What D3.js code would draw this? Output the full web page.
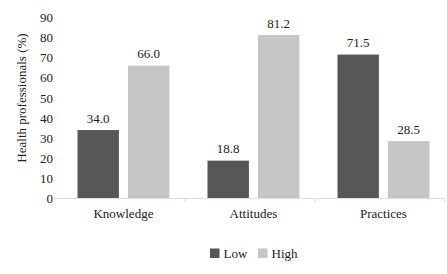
<!DOCTYPE html>
<html>
<head>
<meta charset="utf-8">
<script src="https://cdn.jsdelivr.net/npm/d3@7"></script>
<style>
  body { margin: 0; background: #fff; }
</style>
</head>
<body>
<div id="container"></div>
<script>
/**
 * CONSTANTS AND GLOBALS
 * */
const width = 447,
  height = 274,
  margin = { top: 17.3, bottom: 75.5, left: 55, right: 2 };

const FONT = "'Liberation Serif'";

// data
const categories = ["Knowledge", "Attitudes", "Practices"];
const series = ["Low", "High"];
const lowValues = [34.0, 18.8, 71.5];
const highValues = [66.0, 81.2, 28.5];
const yTicks = [0, 10, 20, 30, 40, 50, 60, 70, 80, 90];

const colors = { Low: "#575757", High: "#c6c6c6" };

// build rows for the join
const rows = categories.map((c, i) => ({
  category: c,
  values: [
    { key: "Low", value: lowValues[i] },
    { key: "High", value: highValues[i] }
  ]
}));

const svg = d3.select("#container").append("svg")
  .attr("width", width)
  .attr("height", height);

// SCALES
const x0 = d3.scaleBand()
  .domain(categories)
  .range([margin.left, width - margin.right])
  .padding(0);

const bw = x0.bandwidth();
const x1 = d3.scaleBand()
  .domain(series)
  .range([bw * 0.173, bw * 0.88])
  .paddingInner(0.18);

const y = d3.scaleLinear()
  .domain([0, 90])
  .range([height - margin.bottom, margin.top]);

// Y AXIS (labels only)
svg.append("g")
  .attr("transform", `translate(${margin.left},0)`)
  .call(d3.axisLeft(y).tickValues(yTicks).tickSize(0).tickPadding(2))
  .call(g => g.select(".domain").remove())
  .call(g => g.selectAll("text")
    .style("font-size", "13px")
    .style("font-family", FONT)
    .style("fill", "#222"));

// y label
svg.append("text")
  .attr("transform", `translate(26, 98) rotate(-90)`)
  .attr("text-anchor", "middle")
  .style("font-family", FONT)
  .style("font-size", "13px")
  .style("fill", "#222")
  .text("Health professionals (%)");

// BARS
const groups = svg.selectAll("g.cat")
  .data(rows)
  .join("g")
  .attr("class", "cat")
  .attr("transform", d => `translate(${x0(d.category)},0)`);

groups.selectAll("rect")
  .data(d => d.values)
  .join("rect")
  .attr("x", d => x1(d.key))
  .attr("width", x1.bandwidth())
  .attr("y", d => y(d.value))
  .attr("height", d => y(0) - y(d.value))
  .attr("fill", d => colors[d.key]);

groups.selectAll("text.val")
  .data(d => d.values)
  .join("text")
  .attr("class", "val")
  .attr("x", d => x1(d.key) + x1.bandwidth() / 2)
  .attr("y", d => y(d.value) - 7.5)
  .attr("text-anchor", "middle")
  .style("font-family", FONT)
  .style("font-size", "13px")
  .style("fill", "#222")
  .text(d => d.value.toFixed(1));

// X AXIS: line + ticks at band boundaries
const axisY = y(0);
svg.append("line")
  .attr("x1", x0.range()[0])
  .attr("x2", x0.range()[1])
  .attr("y1", axisY)
  .attr("y2", axisY)
  .attr("stroke", "#dbe0e6")
  .attr("stroke-width", 1.2);

svg.selectAll("line.tick")
  .data(categories)
  .join("line")
  .attr("class", "tick")
  .attr("x1", d => x0(d) + bw)
  .attr("x2", d => x0(d) + bw)
  .attr("y1", axisY)
  .attr("y2", axisY + 4)
  .attr("stroke", "#dbe0e6")
  .attr("stroke-width", 1.2);

// category labels, centred under the bar pairs
svg.selectAll("text.catlabel")
  .data(categories)
  .join("text")
  .attr("class", "catlabel")
  .attr("x", d => x0(d) + (x1.range()[0] + x1.range()[1]) / 2)
  .attr("y", axisY + 19)
  .attr("text-anchor", "middle")
  .style("font-family", FONT)
  .style("font-size", "13px")
  .style("fill", "#222")
  .text(d => d);

// LEGEND
const legend = svg.append("g")
  .attr("transform", "translate(210, 248.5)");

const legendX = { Low: 0, High: 48 };
legend.selectAll("rect")
  .data(series)
  .join("rect")
  .attr("x", d => legendX[d])
  .attr("y", 0)
  .attr("width", 9.5)
  .attr("height", 9.5)
  .attr("fill", d => colors[d]);

legend.selectAll("text")
  .data(series)
  .join("text")
  .attr("x", d => legendX[d] + 13.5)
  .attr("y", 9.5)
  .style("font-family", FONT)
  .style("font-size", "13px")
  .style("fill", "#222")
  .text(d => d);
</script>
</body>
</html>
